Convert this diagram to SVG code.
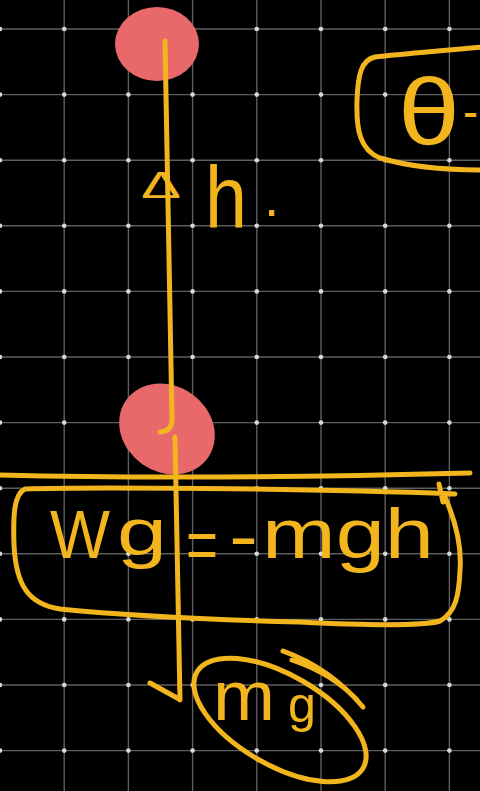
<svg xmlns="http://www.w3.org/2000/svg" width="480" height="791" viewBox="0 0 480 791">
<defs>
<style>
.grid line{stroke:#5e5e5e;stroke-width:1.4}
.dots circle{fill:#d8d8d8}
.ink{fill:none;stroke:#F2B51E;stroke-width:5;stroke-linecap:round;stroke-linejoin:round}
.hand{fill:#F2B51E;font-family:"Liberation Sans","DejaVu Sans",sans-serif}
.ball{fill:#E9686A}
</style>
</defs>
<rect width="480" height="791" fill="#000"/>
<g id="grid" class="grid">
<line x1="64.2" y1="0" x2="64.2" y2="791"/><line x1="128.4" y1="0" x2="128.4" y2="791"/><line x1="192.6" y1="0" x2="192.6" y2="791"/><line x1="256.8" y1="0" x2="256.8" y2="791"/><line x1="321" y1="0" x2="321" y2="791"/><line x1="385.2" y1="0" x2="385.2" y2="791"/><line x1="449.4" y1="0" x2="449.4" y2="791"/>
<line x1="0" y1="29" x2="480" y2="29"/><line x1="0" y1="94.6" x2="480" y2="94.6"/><line x1="0" y1="160.2" x2="480" y2="160.2"/><line x1="0" y1="225.8" x2="480" y2="225.8"/><line x1="0" y1="291.4" x2="480" y2="291.4"/><line x1="0" y1="357" x2="480" y2="357"/><line x1="0" y1="422.6" x2="480" y2="422.6"/><line x1="0" y1="488.2" x2="480" y2="488.2"/><line x1="0" y1="553.8" x2="480" y2="553.8"/><line x1="0" y1="619.4" x2="480" y2="619.4"/><line x1="0" y1="685" x2="480" y2="685"/><line x1="0" y1="750.6" x2="480" y2="750.6"/>
</g>
<g id="grid-dots" class="dots">
<circle cx="0" cy="29" r="2.3"/><circle cx="64.2" cy="29" r="2.3"/><circle cx="128.4" cy="29" r="2.3"/><circle cx="192.6" cy="29" r="2.3"/><circle cx="256.8" cy="29" r="2.3"/><circle cx="321" cy="29" r="2.3"/><circle cx="385.2" cy="29" r="2.3"/><circle cx="449.4" cy="29" r="2.3"/>
<circle cx="0" cy="94.6" r="2.3"/><circle cx="64.2" cy="94.6" r="2.3"/><circle cx="128.4" cy="94.6" r="2.3"/><circle cx="192.6" cy="94.6" r="2.3"/><circle cx="256.8" cy="94.6" r="2.3"/><circle cx="321" cy="94.6" r="2.3"/><circle cx="385.2" cy="94.6" r="2.3"/><circle cx="449.4" cy="94.6" r="2.3"/>
<circle cx="0" cy="160.2" r="2.3"/><circle cx="64.2" cy="160.2" r="2.3"/><circle cx="128.4" cy="160.2" r="2.3"/><circle cx="192.6" cy="160.2" r="2.3"/><circle cx="256.8" cy="160.2" r="2.3"/><circle cx="321" cy="160.2" r="2.3"/><circle cx="385.2" cy="160.2" r="2.3"/><circle cx="449.4" cy="160.2" r="2.3"/>
<circle cx="0" cy="225.8" r="2.3"/><circle cx="64.2" cy="225.8" r="2.3"/><circle cx="128.4" cy="225.8" r="2.3"/><circle cx="192.6" cy="225.8" r="2.3"/><circle cx="256.8" cy="225.8" r="2.3"/><circle cx="321" cy="225.8" r="2.3"/><circle cx="385.2" cy="225.8" r="2.3"/><circle cx="449.4" cy="225.8" r="2.3"/>
<circle cx="0" cy="291.4" r="2.3"/><circle cx="64.2" cy="291.4" r="2.3"/><circle cx="128.4" cy="291.4" r="2.3"/><circle cx="192.6" cy="291.4" r="2.3"/><circle cx="256.8" cy="291.4" r="2.3"/><circle cx="321" cy="291.4" r="2.3"/><circle cx="385.2" cy="291.4" r="2.3"/><circle cx="449.4" cy="291.4" r="2.3"/>
<circle cx="0" cy="357" r="2.3"/><circle cx="64.2" cy="357" r="2.3"/><circle cx="128.4" cy="357" r="2.3"/><circle cx="192.6" cy="357" r="2.3"/><circle cx="256.8" cy="357" r="2.3"/><circle cx="321" cy="357" r="2.3"/><circle cx="385.2" cy="357" r="2.3"/><circle cx="449.4" cy="357" r="2.3"/>
<circle cx="0" cy="422.6" r="2.3"/><circle cx="64.2" cy="422.6" r="2.3"/><circle cx="128.4" cy="422.6" r="2.3"/><circle cx="192.6" cy="422.6" r="2.3"/><circle cx="256.8" cy="422.6" r="2.3"/><circle cx="321" cy="422.6" r="2.3"/><circle cx="385.2" cy="422.6" r="2.3"/><circle cx="449.4" cy="422.6" r="2.3"/>
<circle cx="0" cy="488.2" r="2.3"/><circle cx="64.2" cy="488.2" r="2.3"/><circle cx="128.4" cy="488.2" r="2.3"/><circle cx="192.6" cy="488.2" r="2.3"/><circle cx="256.8" cy="488.2" r="2.3"/><circle cx="321" cy="488.2" r="2.3"/><circle cx="385.2" cy="488.2" r="2.3"/><circle cx="449.4" cy="488.2" r="2.3"/>
<circle cx="0" cy="553.8" r="2.3"/><circle cx="64.2" cy="553.8" r="2.3"/><circle cx="128.4" cy="553.8" r="2.3"/><circle cx="192.6" cy="553.8" r="2.3"/><circle cx="256.8" cy="553.8" r="2.3"/><circle cx="321" cy="553.8" r="2.3"/><circle cx="385.2" cy="553.8" r="2.3"/><circle cx="449.4" cy="553.8" r="2.3"/>
<circle cx="0" cy="619.4" r="2.3"/><circle cx="64.2" cy="619.4" r="2.3"/><circle cx="128.4" cy="619.4" r="2.3"/><circle cx="192.6" cy="619.4" r="2.3"/><circle cx="256.8" cy="619.4" r="2.3"/><circle cx="321" cy="619.4" r="2.3"/><circle cx="385.2" cy="619.4" r="2.3"/><circle cx="449.4" cy="619.4" r="2.3"/>
<circle cx="0" cy="685" r="2.3"/><circle cx="64.2" cy="685" r="2.3"/><circle cx="128.4" cy="685" r="2.3"/><circle cx="192.6" cy="685" r="2.3"/><circle cx="256.8" cy="685" r="2.3"/><circle cx="321" cy="685" r="2.3"/><circle cx="385.2" cy="685" r="2.3"/><circle cx="449.4" cy="685" r="2.3"/>
<circle cx="0" cy="750.6" r="2.3"/><circle cx="64.2" cy="750.6" r="2.3"/><circle cx="128.4" cy="750.6" r="2.3"/><circle cx="192.6" cy="750.6" r="2.3"/><circle cx="256.8" cy="750.6" r="2.3"/><circle cx="321" cy="750.6" r="2.3"/><circle cx="385.2" cy="750.6" r="2.3"/><circle cx="449.4" cy="750.6" r="2.3"/>
</g>
<g id="ball-top"><ellipse class="ball" cx="157" cy="44" rx="42" ry="37"/></g>
<g id="ball-bottom"><ellipse class="ball" cx="167" cy="429" rx="50" ry="43" transform="rotate(35 167 429)"/></g>
<g id="connectors" class="ink">
<path d="M165 41 L172 420 Q172 431 160 432"/>
<path d="M175 437 L180 700"/>
<path d="M150 683 L179 699"/>
<path d="M0 475 Q200 480 470 473"/>
</g>
<g id="box-theta">
<path class="ink" d="M482 47 C440 51 400 54 375 57 C361 60 358 75 357 100 C356 130 360 150 380 158 C410 167 450 170 482 170"/>
<text class="hand"><tspan x="398" y="145" font-size="95" textLength="62" lengthAdjust="spacingAndGlyphs">θ</tspan><tspan x="463" y="128" font-size="50" textLength="15" lengthAdjust="spacingAndGlyphs">-</tspan></text>
</g>
<g id="label-dh">
<text class="hand"><tspan x="141" y="198" font-size="36" textLength="40" lengthAdjust="spacingAndGlyphs">Δ</tspan><tspan x="205" y="227" font-size="88" textLength="42" lengthAdjust="spacingAndGlyphs">h</tspan><tspan x="264" y="216" font-size="55">.</tspan></text>
</g>
<g id="box-work">
<path class="ink" d="M25 489 C80 487 300 488 455 494 M439 484 L443 502 M445 497 C455 520 462 545 460 570 C459 595 456 612 440 621 C420 627 360 625 300 622 C220 620 120 615 60 609 C28 604 16 585 14 545 C13 515 14 494 25 489"/>
<text class="hand"><tspan x="50" y="558" font-size="68" textLength="60" lengthAdjust="spacingAndGlyphs">W</tspan><tspan x="117" y="555" font-size="66" textLength="50" lengthAdjust="spacingAndGlyphs">g</tspan><tspan x="186" y="569" font-size="70" textLength="32" lengthAdjust="spacingAndGlyphs">=</tspan><tspan x="229" y="560" font-size="70" textLength="29" lengthAdjust="spacingAndGlyphs">-</tspan><tspan x="262" y="558" font-size="70" textLength="172" lengthAdjust="spacingAndGlyphs">mgh</tspan></text>
</g>
<g id="label-mg">
<ellipse class="ink" cx="280" cy="720" rx="96" ry="45" transform="rotate(30 280 720)"/>
<path class="ink" d="M283 651 Q330 668 363 707 M292 660 Q333 674 357 700"/>
<text class="hand"><tspan x="213" y="720" font-size="70" textLength="62" lengthAdjust="spacingAndGlyphs">m</tspan><tspan x="288" y="722" font-size="50" textLength="28" lengthAdjust="spacingAndGlyphs">g</tspan></text>
</g>
</svg>
